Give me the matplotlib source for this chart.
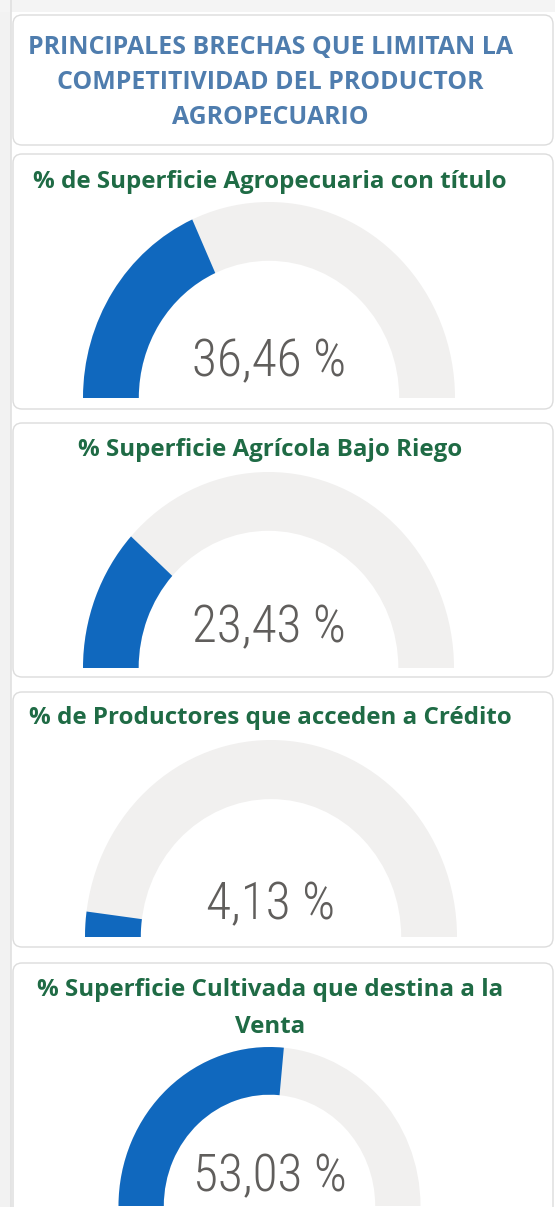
import matplotlib
matplotlib.use("Agg")
import matplotlib.pyplot as plt
from matplotlib.patches import Wedge, FancyBboxPatch, Rectangle

# ---- data ----
header_lines = ["PRINCIPALES BRECHAS QUE LIMITAN LA", "COMPETITIVIDAD DEL PRODUCTOR", "AGROPECUARIO"]
gauge_titles = [
    ["% de Superficie Agropecuaria con título"],
    ["% Superficie Agrícola Bajo Riego"],
    ["% de Productores que acceden a Crédito"],
    ["% Superficie Cultivada que destina a la", "Venta"],
]
gauge_values = [36.46, 23.43, 4.13, 53.03]
gauge_max = 100.0

# ---- style ----
W, H = 555, 1207
BLUE = "#1068BE"
TRACK = "#F1F0EF"
GREEN = "#1F6B45"
HEAD = "#4F7DAE"
VALC = "#605E5C"

fig = plt.figure(figsize=(W / 100, H / 100), dpi=100)
fig.patch.set_facecolor("white")
bg = fig.add_axes([0, 0, 1, 1])
bg.set_xlim(0, W)
bg.set_ylim(H, 0)
bg.axis("off")

# page background strips
bg.add_patch(Rectangle((0, 0), 11, H, facecolor="#F2F2F2", edgecolor="none"))
bg.add_patch(Rectangle((0, 0), W, 12, facecolor="#F4F4F4", edgecolor="none"))
bg.plot([11, 11], [0, H], color="#E0E0E0", lw=1.2)

# cards (top, bottom)
cards = [(15, 145), (154, 409), (423, 677), (692, 947), (963, 1240)]
for top, bot in cards:
    bg.add_patch(FancyBboxPatch((13, top), 540, bot - top,
                                boxstyle="round,pad=0,rounding_size=9",
                                facecolor="white", edgecolor="#DCDCDC", lw=1.0))

title_font = ["Open Sans", "DejaVu Sans"]
# header
for i, line in enumerate(header_lines):
    bg.text(270, 47 + 35.5 * i, line, ha="center", va="center", color=HEAD,
            fontsize=17.9, fontweight="bold", family=title_font)

# gauge geometry: (center x, baseline y, rx, ry), title y positions, value y
geom = [
    (269, 398, 186, 196, [182], 362),
    (268.5, 668, 185.5, 196, [450], 628),
    (271, 937, 186, 197, [718], 905),
    (269.5, 1206, 151, 159, [990, 1027], 1177),
]
inner_ratio = 0.70

for (cx, by, rx, ry, tys, vy), titles, val in zip(geom, gauge_titles, gauge_values):
    for ty, t in zip(tys, titles):
        bg.text(270, ty, t, ha="center", va="center", color=GREEN,
                fontsize=17.4, fontweight="bold", family=title_font)
    ax = fig.add_axes([(cx - rx) / W, (H - by) / H, 2 * rx / W, ry / H])
    ax.set_xlim(-1, 1)
    ax.set_ylim(0, 1)
    ax.axis("off")
    ang = 180 - 180 * val / gauge_max
    ax.add_patch(Wedge((0, 0), 1, 0, 180, width=1 - inner_ratio,
                       facecolor=TRACK, edgecolor="none", clip_on=False))
    ax.add_patch(Wedge((0, 0), 1, ang, 180, width=1 - inner_ratio,
                       facecolor=BLUE, edgecolor="none", clip_on=False))
    label = f"{val:.2f}".replace(".", ",") + " %"
    bg.text(cx, vy, label, ha="center", va="center", color=VALC,
            fontsize=37, fontweight="light",
            family=["Roboto Condensed", "Roboto", "DejaVu Sans"])

fig.savefig("out.png", dpi=100, facecolor="white")
